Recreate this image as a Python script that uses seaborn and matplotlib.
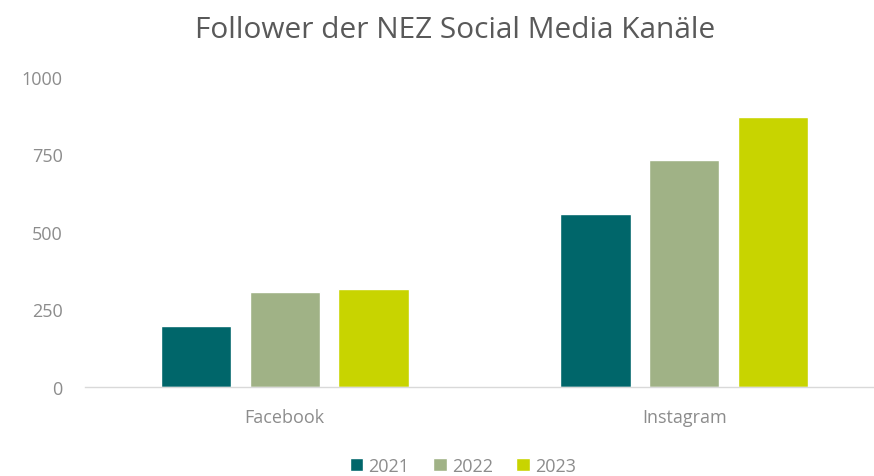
import matplotlib
matplotlib.use("Agg")
from matplotlib import pyplot as plt
import seaborn as sns
import pandas as pd

channels = ["Facebook", "Instagram"]
years = ["2021", "2022", "2023"]
followers_2021 = [197, 557]
followers_2022 = [305, 732]
followers_2023 = [315, 870]
colors = ["#00666A", "#A0B286", "#C8D400"]

rows = []
for year, vals in zip(years, [followers_2021, followers_2022, followers_2023]):
    for ch, v in zip(channels, vals):
        rows.append({"Kanal": ch, "Jahr": year, "Follower": v})
df = pd.DataFrame(rows)

sns.set_style("white")
plt.rcParams["font.family"] = ["Open Sans", "DejaVu Sans"]

fig = plt.figure(figsize=(8.74, 4.77), dpi=100)
ax = fig.add_axes([85 / 874, 1 - 388 / 477, 789 / 874, 310 / 477])

sns.barplot(data=df, x="Kanal", y="Follower", hue="Jahr", palette=colors,
            width=0.667, gap=0.21, ax=ax, saturation=1, legend=True)

ax.set_ylim(0, 1000)
ax.set_xlim(-0.5, -0.5 + 789 / 399.5)
ax.set_yticks([0, 250, 500, 750, 1000])
ax.set_xlabel("")
ax.set_ylabel("")
for s in ["top", "right", "left"]:
    ax.spines[s].set_visible(False)
ax.spines["bottom"].set_color("#D9D9D9")
ax.spines["bottom"].set_linewidth(1)
ax.tick_params(axis="both", length=0, labelsize=13, colors="#8C8C8C")
ax.tick_params(axis="y", pad=16)
ax.tick_params(axis="x", pad=15)

fig.text(455 / 874, 1 - 30 / 477, "Follower der NEZ Social Media Kanäle",
         ha="center", va="center", fontsize=21.5, color="#595959")

handles, labels = ax.get_legend_handles_labels()
ax.get_legend().remove()
fig.legend(handles, labels, loc="center", bbox_to_anchor=(463 / 874, 1 - 467 / 477),
           ncol=3, frameon=False, fontsize=13, labelcolor="#8C8C8C",
           handlelength=0.75, handleheight=0.75, handletextpad=0.3, columnspacing=1.3)

fig.savefig("out.png", dpi=100)
